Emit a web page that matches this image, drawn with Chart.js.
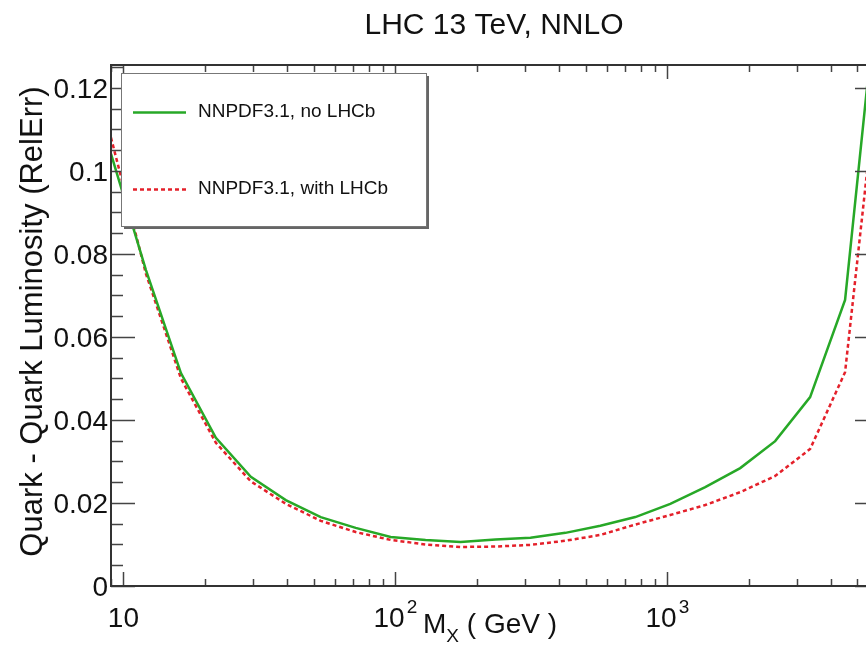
<!DOCTYPE html>
<html>
<head>
<meta charset="utf-8">
<title>Quark - Quark Luminosity</title>
<script src="https://cdn.jsdelivr.net/npm/chart.js@4.4.0/dist/chart.umd.min.js"></script>
<style>
  html, body { margin: 0; padding: 0; background: #fff; overflow: hidden; }
  /* the plot frame runs a little past the right edge of the page */
  #wrap { width: 866px; height: 646px; overflow: hidden; }
  #lumiChart { display: block; }
</style>
</head>
<body>
<div id="wrap"><canvas id="lumiChart" width="882" height="646"></canvas></div>
<script>
// invariant mass grid (GeV)
const massGeV = [9, 12.1, 16.27, 21.87, 29.4, 39.52, 53.14, 71.44, 96.04, 129.1, 173.6, 233.4,
  313.7, 421.8, 567.1, 762.4, 1025, 1378, 1853, 2491, 3349, 4502, 6000];

// relative error on the qq luminosity
const relErrNoLHCb = [0.1041, 0.0761, 0.0513, 0.0357, 0.0263, 0.0207, 0.0166, 0.0140, 0.0118, 0.0111,
  0.0106, 0.0112, 0.0116, 0.0128, 0.0145, 0.0166, 0.0198, 0.0238, 0.0284, 0.0349, 0.0455, 0.0689, 0.148];
const relErrWithLHCb = [0.1080, 0.0752, 0.0500, 0.0345, 0.0252, 0.0198, 0.0157, 0.0130, 0.0111, 0.0100,
  0.0094, 0.0095, 0.0099, 0.0109, 0.0123, 0.0148, 0.0171, 0.0195, 0.0226, 0.0265, 0.0330, 0.0515, 0.126];

const seriesLabels = ['NNPDF3.1, no LHCb', 'NNPDF3.1, with LHCb'];

const yTicks = [0, 0.02, 0.04, 0.06, 0.08, 0.1, 0.12];
const yTickLabels = ['0', '0.02', '0.04', '0.06', '0.08', '0.1', '0.12'];
const xTicks = [10, 100, 1000];
const xTickBase = ['10', '10', '10'];
const xTickPower = ['', '2', '3'];

const FONT = '"Liberation Sans", Arial, Helvetica, sans-serif';
const GREEN = '#27a827';
const RED = '#e4202a';

const toPoints = (vals) => massGeV.map((m, i) => ({ x: m, y: vals[i] }));

// ROOT-like frame: inward ticks on all four sides, labels, titles and legend box
const rootFrame = {
  id: 'rootFrame',
  afterDraw(chart) {
    const { ctx, chartArea: a, scales } = chart;
    const xs = scales.x, ys = scales.y;
    ctx.save();

    // ticks
    ctx.strokeStyle = '#444';
    ctx.lineWidth = 1.5;
    ctx.beginPath();
    for (let i = 0; i * 0.005 <= ys.max + 1e-9; i++) {
      const py = Math.round(ys.getPixelForValue(i * 0.005)) + 0.5;
      const len = i % 4 === 0 ? 24 : 12;
      ctx.moveTo(a.left, py); ctx.lineTo(a.left + len, py);
      ctx.moveTo(a.right, py); ctx.lineTo(a.right - len, py);
    }
    for (const dec of [1, 10, 100, 1000]) {
      for (let m = 1; m <= 9; m++) {
        const v = dec * m;
        if (v < xs.min || v > xs.max) continue;
        const px = Math.round(xs.getPixelForValue(v)) + 0.5;
        const len = m === 1 ? 14 : 7;
        ctx.moveTo(px, a.bottom); ctx.lineTo(px, a.bottom - len);
        ctx.moveTo(px, a.top); ctx.lineTo(px, a.top + len);
      }
    }
    ctx.stroke();

    // frame
    ctx.strokeStyle = '#333';
    ctx.lineWidth = 2;
    ctx.strokeRect(a.left, a.top, a.right - a.left, a.bottom - a.top);

    ctx.fillStyle = '#111';

    // y tick labels
    ctx.font = '28px ' + FONT;
    ctx.textAlign = 'right';
    ctx.textBaseline = 'middle';
    yTicks.forEach((v, i) => {
      ctx.fillText(yTickLabels[i], a.left - 3, ys.getPixelForValue(v) + 2);
    });

    // x tick labels with superscript powers
    ctx.textAlign = 'left';
    ctx.textBaseline = 'alphabetic';
    xTicks.forEach((v, i) => {
      ctx.font = '28px ' + FONT;
      const wb = ctx.measureText(xTickBase[i]).width;
      ctx.font = '19px ' + FONT;
      const wp = xTickPower[i] ? ctx.measureText(xTickPower[i]).width + 2 : 0;
      const x0 = xs.getPixelForValue(v) - (wb + wp) / 2;
      ctx.font = '28px ' + FONT;
      ctx.fillText(xTickBase[i], x0, a.bottom + 41);
      if (xTickPower[i]) {
        ctx.font = '19px ' + FONT;
        ctx.fillText(xTickPower[i], x0 + wb + 2, a.bottom + 27);
      }
    });

    // x axis title: M_X ( GeV )
    ctx.font = '28px ' + FONT;
    let tx = 423;
    const ty = a.bottom + 47;
    ctx.fillText('M', tx, ty);
    tx += ctx.measureText('M').width;
    ctx.font = '19px ' + FONT;
    ctx.fillText('X', tx, ty + 9);
    tx += ctx.measureText('X').width;
    ctx.font = '28px ' + FONT;
    ctx.fillText(' ( GeV )', tx, ty);

    // y axis title
    ctx.save();
    ctx.translate(42, (a.top + a.bottom) / 2 - 4);
    ctx.rotate(-Math.PI / 2);
    ctx.textAlign = 'center';
    ctx.font = '31px ' + FONT;
    ctx.fillText('Quark - Quark Luminosity (RelErr)', 0, 0);
    ctx.restore();

    // plot title
    ctx.textAlign = 'center';
    ctx.font = '30px ' + FONT;
    ctx.fillText('LHC 13 TeV, NNLO', 494, 34);

    // legend box with shadow
    const lx = 121, ly = 73, lw = 305, lh = 153;
    ctx.fillStyle = '#666';
    ctx.fillRect(lx + 3, ly + 3, lw, lh);
    ctx.fillStyle = '#fff';
    ctx.fillRect(lx, ly, lw, lh);
    ctx.strokeStyle = '#777';
    ctx.lineWidth = 1;
    ctx.strokeRect(lx + 0.5, ly + 0.5, lw, lh);

    const rows = [112, 189];
    chart.data.datasets.forEach((ds, i) => {
      const ry = rows[i] + 0.5;
      ctx.strokeStyle = ds.borderColor;
      ctx.lineWidth = ds.borderWidth;
      ctx.setLineDash(ds.borderDash || []);
      ctx.beginPath();
      ctx.moveTo(133, ry); ctx.lineTo(186, ry);
      ctx.stroke();
      ctx.setLineDash([]);
      ctx.fillStyle = '#111';
      ctx.textAlign = 'left';
      ctx.textBaseline = 'middle';
      ctx.font = '19px ' + FONT;
      ctx.fillText(ds.label, 198, rows[i]);
    });

    ctx.restore();
  }
};

new Chart(document.getElementById('lumiChart').getContext('2d'), {
  type: 'line',
  data: {
    datasets: [{
      label: seriesLabels[0],
      data: toPoints(relErrNoLHCb),
      borderColor: GREEN,
      borderWidth: 2.5,
      fill: false
    }, {
      label: seriesLabels[1],
      data: toPoints(relErrWithLHCb),
      borderColor: RED,
      borderWidth: 2.5,
      borderDash: [4, 3],
      fill: false
    }]
  },
  options: {
    responsive: false,
    animation: false,
    layout: { padding: { left: 111, top: 65, right: 3, bottom: 60 } },
    elements: { point: { radius: 0 }, line: { tension: 0 } },
    plugins: { legend: { display: false }, tooltip: { enabled: false }, title: { display: false } },
    scales: {
      x: { type: 'logarithmic', min: 9, max: 6000, display: false },
      y: { type: 'linear', min: 0, max: 0.1255, display: false }
    }
  },
  plugins: [rootFrame]
});
</script>
</body>
</html>
